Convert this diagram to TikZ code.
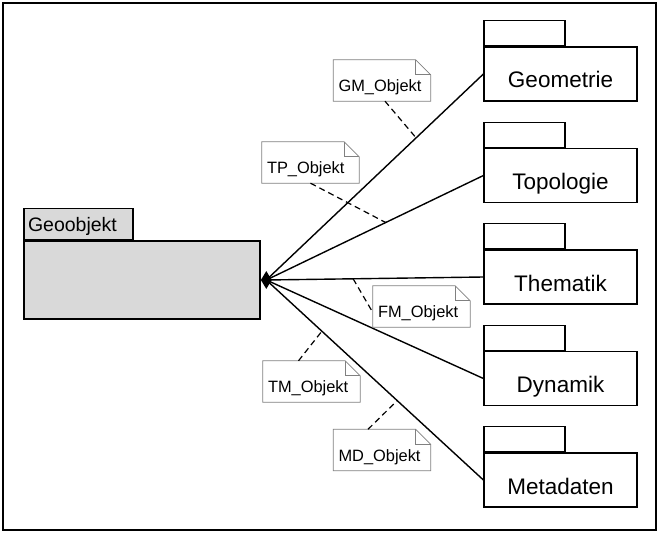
\documentclass[tikz,border=0pt]{standalone}
\usepackage{fontspec}
\setmainfont{Liberation Sans}
\usetikzlibrary{shapes.geometric,calc}
\definecolor{notegray}{HTML}{808080}
\definecolor{pkgfill}{HTML}{D9D9D9}
\tikzset{
  pkgbody/.style={draw, line width=1.2pt, minimum width=153pt, minimum height=54pt,
    text height=28pt, text depth=0pt, font=\fontsize{22.5}{25}\selectfont, inner sep=0pt},
  pkgtab/.style={draw, line width=1.2pt, minimum width=81pt, minimum height=25pt, inner sep=0pt, anchor=south west},
  notebox/.style={minimum width=97pt, minimum height=41pt, text width=87pt, align=left,
    inner xsep=5pt, inner ysep=0pt, text height=22pt, text depth=0pt, font=\fontsize{16.4}{18}\selectfont},
  noteline/.style={draw=notegray, line width=0.8pt},
  link/.style={line width=1.4pt},
  dashlink/.style={line width=1.2pt, dash pattern=on 6pt off 4pt}
}
\begin{document}
\begin{tikzpicture}[x=1pt,y=-1pt]
\useasboundingbox (0,0) rectangle (661,535);
\draw[line width=1.5pt] (3,3) rectangle (656,530);

% Geoobjekt
\node[draw, line width=1.2pt, fill=pkgfill, minimum width=236pt, minimum height=78pt, inner sep=0pt] (geoobj) at (142,280) {};
\node[draw, line width=1.2pt, fill=pkgfill, anchor=south west, minimum height=31pt, text width=101pt, align=left,
  inner xsep=4pt, inner ysep=0pt, text height=15pt, text depth=0pt, font=\fontsize{19.5}{22}\selectfont] (geotab) at (geoobj.north west) {Geoobjekt};

% right packages
\node[pkgbody] (geom) at (560.5,74) {Geometrie};
\node[pkgbody] (topo) at (560.5,175.5) {Topologie};
\node[pkgbody] (them) at (560.5,277) {Thematik};
\node[pkgbody] (dyna) at (560.5,378.5) {Dynamik};
\node[pkgbody] (meta) at (560.5,480) {Metadaten};
\foreach \p in {geom,topo,them,dyna,meta}
  \node[pkgtab] (\p tab) at (\p.north west) {};

% composition diamond
\node[diamond, fill=black, minimum width=11pt, minimum height=18pt, inner sep=0pt, anchor=west] (dia) at (geoobj.east) {};

% links
\draw[link] (dia.center) -- (geom.west) coordinate[pos=0.69] (gmpt);
\draw[link] (dia.center) -- (topo.west) coordinate[pos=0.55] (tppt);
\draw[link] (dia.center) -- (them.west) coordinate[pos=0.40] (fmpt);
\draw[link] (dia.center) -- (dyna.west);
\draw[link] (dia.center) -- (meta.west) coordinate[pos=0.256] (tmpt) coordinate[pos=0.603] (mdpt);

% notes
\node[notebox] (gm) at (382,80.5) {GM\_Objekt};
\node[notebox] (tp) at (310.5,162.5) {TP\_Objekt};
\node[notebox] (fm) at (421.5,306.5) {FM\_Objekt};
\node[notebox] (tm) at (311.5,381.5) {TM\_Objekt};
\node[notebox] (md) at (382,450) {MD\_Objekt};
\foreach \n in {gm,tp,fm,tm,md}{
  \draw[noteline] (\n.north west) -- ([xshift=-15pt]\n.north east) -- ([yshift=-15pt]\n.north east)
    -- (\n.south east) -- (\n.south west) -- cycle;
  \draw[noteline] ([xshift=-15pt]\n.north east) -- ([xshift=-15pt,yshift=-15pt]\n.north east) -- ([yshift=-15pt]\n.north east);
}

% dashed note connectors
\draw[dashlink] ($(gm.south)+(3,0)$) -- (gmpt);
\draw[dashlink] (tp.south) -- (tppt);
\draw[dashlink] (fmpt) -- ($(fm.west)+(0,6)$);
\draw[dashlink] ($(tm.north)+(-13,0)$) -- (tmpt);
\draw[dashlink] ($(md.north)+(-14,0)$) -- (mdpt);
\end{tikzpicture}
\end{document}
